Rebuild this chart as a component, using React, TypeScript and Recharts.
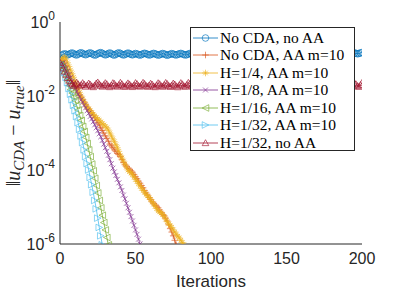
import React from 'react';
import { LineChart, Line, XAxis, YAxis, Legend, Label } from 'recharts';

const X_TICKS = [0, 50, 100, 150, 200];
const Y_TICKS = [1e-6, 1e-4, 1e-2, 1];

// minor log ticks 2..9 x 10^k
const Y_MINOR: number[] = [];
for (let e = -6; e < 0; e++) {
  for (let m = 2; m <= 9; m++) Y_MINOR.push(m * Math.pow(10, e));
}

// error per iteration
const noCdaNoAa = [
  0.105, 0.125, 0.133, 0.138, 0.135, 0.129, 0.134, 0.141, 0.146, 0.139,
  0.132, 0.128, 0.135, 0.143, 0.148, 0.141, 0.134, 0.13, 0.136, 0.142,
  0.147, 0.14, 0.133, 0.127, 0.131, 0.139, 0.145, 0.149, 0.142, 0.135,
  0.129, 0.133, 0.14, 0.146, 0.139, 0.131, 0.127, 0.134, 0.142, 0.147,
  0.141, 0.134, 0.128, 0.132, 0.139, 0.145, 0.14, 0.133, 0.129, 0.135,
  0.141, 0.137, 0.131, 0.127, 0.132, 0.138, 0.143, 0.139, 0.133, 0.128,
  0.131, 0.137, 0.142, 0.138, 0.132, 0.127, 0.13, 0.136, 0.141, 0.137,
  0.131, 0.126, 0.13, 0.135, 0.14, 0.136, 0.131, 0.128, 0.133, 0.138,
  0.142, 0.137, 0.132, 0.128, 0.131, 0.136, 0.141, 0.138, 0.133, 0.129,
  0.132, 0.137, 0.141, 0.137, 0.132, 0.128, 0.131, 0.136, 0.14, 0.137,
  0.132, 0.129, 0.133, 0.138, 0.142, 0.138, 0.133, 0.13, 0.134, 0.139,
  0.143, 0.139, 0.134, 0.13, 0.133, 0.138, 0.142, 0.138, 0.133, 0.129,
  0.132, 0.137, 0.141, 0.138, 0.134, 0.13, 0.133, 0.138, 0.142, 0.139,
  0.135, 0.131, 0.134, 0.139, 0.143, 0.14, 0.135, 0.132, 0.135, 0.14,
  0.144, 0.14, 0.136, 0.132, 0.135, 0.14, 0.144, 0.141, 0.137, 0.133,
  0.136, 0.141, 0.145, 0.141, 0.137, 0.133, 0.136, 0.141, 0.145, 0.142,
  0.138, 0.134, 0.137, 0.142, 0.146, 0.142, 0.138, 0.134, 0.137, 0.142,
  0.146, 0.143, 0.139, 0.135, 0.138, 0.143, 0.147, 0.143, 0.139, 0.136,
  0.139, 0.144, 0.148, 0.144, 0.14, 0.136, 0.139, 0.144, 0.148, 0.145,
  0.141, 0.137, 0.14, 0.145, 0.149, 0.146, 0.142, 0.138, 0.141, 0.146,
  0.15,
];

const noCdaAa = [
  7.9e-2, 8.7e-2, 9.1e-2, 8.3e-2, 6.6e-2, 5.2e-2, 4.2e-2, 3.3e-2, 2.6e-2, 2.2e-2,
  1.8e-2, 1.48e-2, 1.2e-2, 1.05e-2, 9.3e-3, 7.9e-3, 6.8e-3, 6.0e-3, 5.0e-3, 4.4e-3,
  4.0e-3, 3.5e-3, 3.0e-3, 2.6e-3, 2.2e-3, 1.9e-3, 1.66e-3, 1.38e-3, 1.17e-3, 1.0e-3,
  8.3e-4, 7.2e-4, 6.0e-4, 5.0e-4, 4.5e-4, 4.0e-4, 3.5e-4, 3.2e-4, 2.8e-4, 2.6e-4,
  2.3e-4, 1.9e-4, 1.6e-4, 1.38e-4, 1.26e-4, 1.12e-4, 1.05e-4, 9.5e-5, 8.7e-5, 7.6e-5,
  6.6e-5, 5.8e-5, 5.0e-5, 4.4e-5, 3.8e-5, 3.3e-5, 2.8e-5, 2.4e-5, 2.1e-5, 1.8e-5,
  1.6e-5, 1.38e-5, 1.26e-5, 1.12e-5, 1.05e-5, 9.5e-6, 8.3e-6, 7.2e-6, 6.3e-6, 5.8e-6,
  5.0e-6, 4.2e-6, 3.3e-6, 2.6e-6, 2.1e-6, 1.66e-6, 1.26e-6, 9.5e-7,
];

const h4Aa = [
  7.9e-2, 9.5e-2, 0.107, 0.112, 0.1, 7.9e-2, 6.3e-2, 5.0e-2, 4.0e-2, 3.2e-2,
  2.5e-2, 2.0e-2, 1.6e-2, 1.26e-2, 1.0e-2, 8.3e-3, 6.9e-3, 5.9e-3, 5.0e-3, 4.5e-3,
  4.0e-3, 3.5e-3, 3.2e-3, 2.9e-3, 2.6e-3, 2.4e-3, 2.2e-3, 2.0e-3, 1.8e-3, 1.66e-3,
  1.51e-3, 1.38e-3, 1.2e-3, 1.0e-3, 8.3e-4, 6.9e-4, 5.8e-4, 4.8e-4, 4.0e-4, 3.2e-4,
  2.5e-4, 2.1e-4, 1.74e-4, 1.45e-4, 1.2e-4, 1.0e-4, 9.1e-5, 8.3e-5, 7.4e-5, 6.5e-5,
  5.6e-5, 4.9e-5, 4.3e-5, 3.7e-5, 3.2e-5, 2.8e-5, 2.5e-5, 2.2e-5, 2.0e-5, 1.8e-5,
  1.6e-5, 1.38e-5, 1.2e-5, 1.05e-5, 9.1e-6, 7.9e-6, 7.4e-6, 6.9e-6, 6.3e-6, 5.5e-6,
  4.7e-6, 4.0e-6, 3.5e-6, 3.2e-6, 2.8e-6, 2.4e-6, 2.1e-6, 1.82e-6, 1.62e-6, 1.45e-6,
  1.26e-6, 1.1e-6, 9.5e-7,
];

const h8Aa = [
  7.1e-2, 7.6e-2, 7.9e-2, 6.9e-2, 5.6e-2, 4.7e-2, 3.8e-2, 3.2e-2, 2.5e-2, 2.0e-2,
  1.6e-2, 1.35e-2, 1.12e-2, 9.5e-3, 7.9e-3, 6.8e-3, 5.6e-3, 4.8e-3, 4.0e-3, 3.4e-3,
  2.8e-3, 2.4e-3, 2.0e-3, 1.66e-3, 1.38e-3, 1.15e-3, 9.5e-4, 7.9e-4, 6.3e-4, 5.0e-4,
  4.0e-4, 3.2e-4, 2.5e-4, 1.9e-4, 1.48e-4, 1.12e-4, 8.9e-5, 7.1e-5, 5.6e-5, 4.5e-5,
  3.5e-5, 2.8e-5, 2.1e-5, 1.66e-5, 1.26e-5, 9.5e-6, 7.2e-6, 5.5e-6, 4.2e-6, 3.2e-6,
  2.4e-6, 1.82e-6, 1.35e-6, 1.0e-6, 7.6e-7,
];

const h16Aa = [
  7.1e-2, 6.3e-2, 5.2e-2, 4.2e-2, 3.2e-2, 2.5e-2, 1.9e-2, 1.5e-2, 1.2e-2, 9.5e-3,
  7.6e-3, 5.6e-3, 4.2e-3, 3.0e-3, 2.2e-3, 1.51e-3, 1.1e-3, 7.6e-4, 5.2e-4, 3.5e-4,
  2.3e-4, 1.45e-4, 9.5e-5, 6.0e-5, 3.8e-5, 2.4e-5, 1.5e-5, 9.5e-6, 6.0e-6, 3.8e-6,
  2.4e-6, 1.5e-6, 9.5e-7,
];

const h32Aa = [
  7.9e-2, 6.6e-2, 5.4e-2, 4.3e-2, 3.2e-2, 2.3e-2, 1.6e-2, 1.12e-2, 7.9e-3, 5.6e-3,
  4.0e-3, 2.8e-3, 1.9e-3, 1.26e-3, 8.3e-4, 5.5e-4, 3.5e-4, 2.3e-4, 1.5e-4, 1.0e-4,
  6.3e-5, 4.0e-5, 2.5e-5, 1.5e-5, 8.9e-6, 5.0e-6, 2.8e-6, 1.66e-6, 9.5e-7,
];

const h32NoAa = [
  0.08, 0.068, 0.056, 0.046, 0.038, 0.031, 0.026, 0.023, 0.021,
  0.019, 0.0205, 0.023, 0.021, 0.0185, 0.02, 0.0225, 0.0205,
  0.018, 0.0195, 0.022, 0.0205, 0.0185, 0.0175, 0.0195, 0.022,
  0.0235, 0.021, 0.019, 0.018, 0.02, 0.0225, 0.021, 0.0185,
  0.0175, 0.0195, 0.0225, 0.0215, 0.019, 0.018, 0.02, 0.023,
  0.021, 0.0185, 0.0178, 0.0198, 0.0222, 0.0208, 0.0186, 0.0176,
  0.0196, 0.0226, 0.0212, 0.0188, 0.018, 0.0202, 0.023, 0.0214,
  0.019, 0.0178, 0.0194, 0.0218, 0.0206, 0.0184, 0.0175, 0.0197,
  0.0224, 0.0211, 0.0187, 0.0179, 0.02, 0.0228, 0.0213, 0.0189,
  0.0177, 0.0195, 0.022, 0.0207, 0.0185, 0.0174, 0.0198, 0.0226,
  0.021, 0.0186, 0.0179, 0.0201, 0.0229, 0.0214, 0.019, 0.0178,
  0.0196, 0.0221, 0.0208, 0.0185, 0.0176, 0.0199, 0.0227, 0.0212,
  0.0188, 0.0178, 0.02, 0.0225, 0.021, 0.0186, 0.0175, 0.0197,
  0.0223, 0.0209, 0.0187, 0.018, 0.0202, 0.0228, 0.0213, 0.0189,
  0.0177, 0.0196, 0.0222, 0.0207, 0.0185, 0.0176, 0.0199, 0.0227,
  0.0211, 0.0187, 0.0179, 0.0201, 0.0226, 0.0212, 0.0189, 0.0178,
  0.0197, 0.0222, 0.0208, 0.0186, 0.0177, 0.02, 0.0228, 0.0213,
  0.0189, 0.0179, 0.0201, 0.0226, 0.021, 0.0187, 0.0176, 0.0198,
  0.0224, 0.021, 0.0188, 0.018, 0.0203, 0.0229, 0.0214, 0.019,
  0.0178, 0.0197, 0.0223, 0.0208, 0.0186, 0.0177, 0.02, 0.0227,
  0.0212, 0.0188, 0.018, 0.0202, 0.0227, 0.0213, 0.019, 0.0179,
  0.0198, 0.0223, 0.0209, 0.0187, 0.0178, 0.0201, 0.0229, 0.0214,
  0.019, 0.018, 0.0202, 0.0227, 0.0211, 0.0188, 0.0177, 0.0199,
  0.0225, 0.0211, 0.0189, 0.0181, 0.0204, 0.023, 0.0215, 0.0191,
  0.0179, 0.0198, 0.0224, 0.0209, 0.0187, 0.0178, 0.0201, 0.0228,
];

const SERIES = [
  { name: 'No CDA, no AA', values: noCdaNoAa, color: '#0072BD', marker: 'o' },
  { name: 'No CDA, AA m=10', values: noCdaAa, color: '#D95319', marker: '+' },
  { name: 'H=1/4, AA m=10', values: h4Aa, color: '#EDB120', marker: '*' },
  { name: 'H=1/8, AA m=10', values: h8Aa, color: '#7E2F8E', marker: 'x' },
  { name: 'H=1/16, AA m=10', values: h16Aa, color: '#77AC30', marker: '<' },
  { name: 'H=1/32, AA m=10', values: h32Aa, color: '#4DBEEE', marker: '>' },
  { name: 'H=1/32, no AA', values: h32NoAa, color: '#A2142F', marker: '^' },
];

const toPoints = (values: number[]) => values.map((v, i) => ({ x: i, v }));

const AXIS = '#262626';
const SANS = 'Liberation Sans, Arial, sans-serif';
const SERIF = 'Liberation Serif, Times New Roman, serif';

const Marker = ({ shape, cx, cy, color }: { shape: string; cx: number; cy: number; color: string }) => {
  const s = 3.3;
  const common = { fill: 'none', stroke: color, strokeWidth: 0.65 };
  switch (shape) {
    case 'o':
      return <circle cx={cx} cy={cy} r={s} {...common} />;
    case '+':
      return <path d={`M${cx - s},${cy}H${cx + s}M${cx},${cy - s}V${cy + s}`} {...common} />;
    case '*': {
      const d = s * 0.7;
      return (
        <path
          d={`M${cx - s},${cy}H${cx + s}M${cx},${cy - s}V${cy + s}M${cx - d},${cy - d}L${cx + d},${cy + d}M${cx - d},${cy + d}L${cx + d},${cy - d}`}
          {...common}
        />
      );
    }
    case 'x': {
      const d = s * 0.75;
      return <path d={`M${cx - d},${cy - d}L${cx + d},${cy + d}M${cx - d},${cy + d}L${cx + d},${cy - d}`} {...common} />;
    }
    case '<':
      return <polygon points={`${cx - s},${cy} ${cx + s},${cy - s} ${cx + s},${cy + s}`} {...common} />;
    case '>':
      return <polygon points={`${cx + s},${cy} ${cx - s},${cy - s} ${cx - s},${cy + s}`} {...common} />;
    default:
      return <polygon points={`${cx},${cy - s} ${cx - s},${cy + s * 0.8} ${cx + s},${cy + s * 0.8}`} {...common} />;
  }
};

const dotFor = (shape: string, color: string) => (p: any) => {
  if (p.cx == null || p.cy == null) return <g key={p.index} />;
  return <Marker key={p.index} shape={shape} cx={p.cx} cy={p.cy} color={color} />;
};

const PowerTick = ({ x, y, payload }: any) => {
  const exp = Math.round(Math.log10(payload.value));
  return (
    <text x={x} y={y} dy={6} textAnchor="end" fill={AXIS} fontFamily={SANS} fontSize={16}>
      10
      <tspan dy={-8} fontSize={12}>
        {exp}
      </tspan>
    </text>
  );
};

// y label as rotated html, centred on the plot's vertical middle
const ErrorLabel = () => {
  const sub = { fontSize: 15, position: 'relative' as const, top: 4 };
  return (
    <div
      style={{
        position: 'absolute',
        left: 14,
        top: 133,
        transform: 'translate(-50%, -50%) rotate(-90deg)',
        whiteSpace: 'nowrap',
        fontFamily: SERIF,
        fontSize: 20,
        color: AXIS,
        lineHeight: '22px',
      }}
    >
      ‖<i>u</i>
      <i style={sub}>CDA</i> − <i>u</i>
      <i style={sub}>true</i>‖
    </div>
  );
};

const LegendBox = () => (
  <div
    style={{
      border: `1px solid ${AXIS}`,
      background: '#fff',
      width: 165,
      height: 124,
      boxSizing: 'border-box',
      paddingTop: 1,
      fontFamily: SERIF,
      fontSize: 15.5,
      color: '#000',
    }}
  >
    {SERIES.map((s) => (
      <div key={s.name} style={{ display: 'flex', alignItems: 'center', height: 17.5 }}>
        <svg width={29} height={16} style={{ flex: 'none' }}>
          <line x1={2} x2={27} y1={8} y2={8} stroke={s.color} strokeWidth={0.8} />
          <Marker shape={s.marker} cx={14.5} cy={8} color={s.color} />
        </svg>
        <span style={{ whiteSpace: 'nowrap', lineHeight: '16px' }}>{s.name}</span>
      </div>
    ))}
  </div>
);

export default function App() {
  return (
    <div style={{ position: 'absolute', left: 0, top: 0, width: 399, height: 291 }}>
      <LineChart width={399} height={291} margin={{ top: 22, right: 37, bottom: 0, left: 0 }}>
        <XAxis
          xAxisId="b"
          type="number"
          dataKey="x"
          domain={[0, 200]}
          allowDataOverflow
          ticks={X_TICKS}
          interval={0}
          height={47}
          tickLine={false}
          tickSize={0}
          tickMargin={9}
          stroke={AXIS}
          tick={{ fontSize: 16, fontFamily: SANS, fill: AXIS }}
        >
          <Label
            value="Iterations"
            position="insideBottom"
            offset={4}
            style={{ fontSize: 17, fontFamily: SANS, fill: AXIS }}
          />
        </XAxis>
        <XAxis xAxisId="bt" type="number" domain={[0, 200]} allowDataOverflow ticks={X_TICKS} interval={0}
          mirror height={0} tickSize={3} tick={false} axisLine={false} stroke={AXIS} />
        <XAxis xAxisId="t" orientation="top" type="number" domain={[0, 200]} allowDataOverflow ticks={X_TICKS}
          interval={0} mirror height={0} tickSize={3} tick={false} stroke={AXIS} />
        <YAxis
          yAxisId="l"
          type="number"
          scale="log"
          domain={[1e-6, 1]}
          allowDataOverflow
          ticks={Y_TICKS}
          interval={0}
          width={60}
          tickLine={false}
          tickSize={0}
          tickMargin={5}
          stroke={AXIS}
          tick={<PowerTick />}
        />
        <YAxis yAxisId="lt" type="number" scale="log" domain={[1e-6, 1]} allowDataOverflow ticks={Y_TICKS}
          interval={0} mirror width={0} tickSize={3} tick={false} axisLine={false} stroke={AXIS} />
        <YAxis yAxisId="lm" type="number" scale="log" domain={[1e-6, 1]} allowDataOverflow ticks={Y_MINOR}
          interval={0} mirror width={0} tickSize={2} tick={false} axisLine={false} stroke={AXIS} />
        <YAxis yAxisId="r" orientation="right" type="number" scale="log" domain={[1e-6, 1]} allowDataOverflow
          ticks={Y_TICKS} interval={0} mirror width={0} tickSize={3} tick={false} stroke={AXIS} />
        <YAxis yAxisId="rm" orientation="right" type="number" scale="log" domain={[1e-6, 1]} allowDataOverflow
          ticks={Y_MINOR} interval={0} mirror width={0} tickSize={2} tick={false} axisLine={false} stroke={AXIS} />
        {SERIES.map((s) => (
          <Line
            key={s.name}
            xAxisId="b"
            yAxisId="l"
            data={toPoints(s.values)}
            dataKey="v"
            name={s.name}
            stroke={s.color}
            strokeWidth={0.8}
            dot={dotFor(s.marker, s.color)}
            activeDot={false}
            isAnimationActive={false}
          />
        ))}
        <Legend
          layout="vertical"
          align="center"
          verticalAlign="middle"
          content={<LegendBox />}
          wrapperStyle={{ left: 190, top: 27, width: 165, height: 124 }}
        />
      </LineChart>
      <ErrorLabel />
    </div>
  );
}
